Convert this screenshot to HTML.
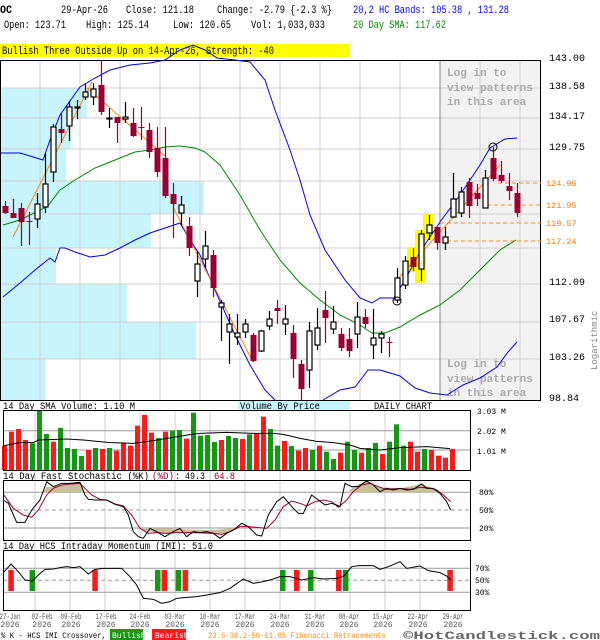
<!DOCTYPE html>
<html><head><meta charset="utf-8"><style>
html,body{margin:0;padding:0;background:#fff}
svg{display:block}
text{font-family:"Liberation Mono",monospace}
</style></head><body>
<svg id="s" width="600" height="640" viewBox="0 0 600 640" xmlns="http://www.w3.org/2000/svg">
<rect width="600" height="640" fill="#fff"/>
<g font-size="11" fill="#000">
<text x="0" y="13" font-weight="bold" textLength="12" lengthAdjust="spacingAndGlyphs">OC</text>
<text x="61" y="13" textLength="47" lengthAdjust="spacingAndGlyphs">29-Apr-26</text>
<text x="126" y="13" textLength="68" lengthAdjust="spacingAndGlyphs">Close: 121.18</text>
<text x="217" y="13" textLength="115" lengthAdjust="spacingAndGlyphs">Change: -2.79 {-2.3 %}</text>
<text x="4" y="28" textLength="62" lengthAdjust="spacingAndGlyphs">Open: 123.71</text>
<text x="86" y="28" textLength="63" lengthAdjust="spacingAndGlyphs">High: 125.14</text>
<text x="173" y="28" textLength="58" lengthAdjust="spacingAndGlyphs">Low: 120.65</text>
<text x="251" y="28" textLength="74" lengthAdjust="spacingAndGlyphs">Vol: 1,033,033</text>
<text x="353" y="13" fill="#0000ff" textLength="156" lengthAdjust="spacingAndGlyphs">20,2 HC Bands: 105.38 , 131.28</text>
<text x="353" y="28" fill="#008800" textLength="93" lengthAdjust="spacingAndGlyphs">20 Day SMA: 117.62</text>
</g>
<rect x="0" y="44" width="349" height="13" fill="#ffff00"/>
<text x="2" y="54" font-size="11" textLength="272" lengthAdjust="spacingAndGlyphs">Bullish Three Outside Up on 14-Apr-26, Strength: -40</text>
<g id="main"></g>
<g id="lower"></g>
</svg>
<script>
const NS="http://www.w3.org/2000/svg";
function el(p,t,a,txt){const e=document.createElementNS(NS,t);for(const k in a)e.setAttribute(k,a[k]);if(txt!==undefined)e.textContent=txt;p.appendChild(e);return e;}
const M=document.getElementById('main'),L=document.getElementById('lower');
[[88,118,87],[118,149,71],[149,181,66],[181,214,204],[214,248,151],[248,284,56],[284,322,127],[322,359,196],[359,400,45]].forEach(b=>el(M,'rect',{x:1,y:b[0],width:b[2]-1,height:b[1]-b[0],fill:'#c8f4fc'}));
el(M,'rect',{x:440,y:60,width:100,height:340,fill:'#f2f2f2'});
[88,118,149,181,214,248,284,322,359].forEach(y=>el(M,'line',{x1:0,x2:540,y1:y,y2:y,stroke:'#d0d0d0','stroke-width':1}));
for(let x=40;x<540;x+=40)el(M,'line',{x1:x,x2:x,y1:60,y2:400,stroke:x==440?'#888':'#d0d0d0','stroke-width':1});
el(M,'rect',{x:0.5,y:60.5,width:540,height:340,fill:'none',stroke:'#000','stroke-width':1});
[[72,'Log in to'],[87,'view patterns'],[101,'in this area'],[363,'Log in to'],[378,'view patterns'],[392,'in this area']].forEach(t=>el(M,'text',{x:447,y:t[0]+4,'font-size':'11','font-weight':'bold',fill:'#aaa'},t[1]));
[[57,'143.00'],[85,'138.58'],[115,'134.17'],[146,'129.75'],[281,'112.09'],[318,'107.67'],[356,'103.26'],[397,'98.84']].forEach(t=>el(M,'text',{x:549,y:t[0]+4,'font-size':'10'},t[1]));
[[183,'124.96',498],[205,'121.95',487],[223,'119.57',440],[241,'117.24',447]].forEach(t=>{el(M,'line',{x1:t[2],x2:541,y1:t[0],y2:t[0],stroke:'#ff8c1a','stroke-dasharray':'4,3'});el(M,'text',{x:546,y:t[0]+3,'font-size':'8.5',fill:'#ff7700'},t[1]);});
el(M,'text',{x:0,y:0,'font-size':'9',fill:'#888',transform:'translate(597,370) rotate(-90)'},'Logarithmic');
[[407,247,9,25],[415,230,11,53],[423,214,10,26]].forEach(r=>el(M,'rect',{x:r[0],y:r[1],width:r[2],height:r[3],fill:'#ffff00'}));
function pl(p,pts,c,w,extra){const a={points:pts.map(q=>q.join(',')).join(' '),fill:'none',stroke:c,'stroke-width':w||1};Object.assign(a,extra||{});return el(p,'polyline',a);}
pl(M,[[1,153],[20,153],[43,160],[50,140],[60,115],[80,87],[95,78],[110,70],[130,65],[150,63],[165,60],[180,50],[193,45],[205,50],[217,58],[235,60],[250,62],[265,80],[275,110],[290,150],[300,180],[310,215],[325,250],[345,280],[360,298],[372,303],[380,298],[394,298],[405,280],[420,252],[440,222],[460,195],[480,165],[490,148],[505,139],[517,138]],'#0000ee');
pl(M,[[3,225],[20,220],[40,210],[47,207],[60,190],[75,180],[95,168],[115,160],[135,152],[150,150],[165,147],[180,146],[195,148],[205,152],[220,165],[240,195],[260,230],[280,260],[300,283],[320,300],[340,315],[360,325],[372,333],[385,333],[400,327],[420,315],[440,305],[460,290],[480,270],[500,250],[516,240]],'#008800');
pl(M,[[3,297],[20,283],[35,270],[50,258],[55,262],[60,248],[65,248],[75,252],[90,257],[105,255],[120,248],[135,240],[150,233],[165,228],[180,223],[190,240],[200,255],[215,290],[235,335],[250,365],[265,390],[275,400]],'#0000ee');
pl(M,[[323,400],[340,390],[355,387],[362,378],[368,370],[380,370],[400,376],[415,388],[430,393],[447,395],[463,385],[480,378],[497,367],[508,352],[517,342]],'#0000ee');
pl(M,[[13,237],[92,82]],'#ff7f1a');pl(M,[[87,88],[165,156]],'#ff7f1a');pl(M,[[173,207],[253,362]],'#ff7f1a');pl(M,[[395,282],[500,165]],'#ff7f1a');
const C=[[206,213,201,214,'r'],[213,218,199,218,'r'],[208,222,203,246,'r'],[221,222,212,245,'r'],[204,219,193,228,'w'],[184,207,153,213,'w'],[127,172,124,182,'w'],[129,133,113,143,'r'],[107,126,101,141,'w'],[107,108,100,119,'w'],[92,97,84,100,'w'],[89,97,83,105,'w'],[85,112,61,115,'r'],[118,118,108,128,'w'],[117,123,117,143,'r'],[117,119,102,123,'w'],[123,136,108,137,'r'],[127,128,107,140,'r'],[130,152,123,158,'r'],[148,172,127,177,'r'],[158,196,127,198,'r'],[194,204,183,238,'r'],[205,213,196,225,'w'],[226,248,217,256,'r'],[264,281,252,297,'w'],[246,259,231,268,'w'],[255,288,250,297,'r'],[303,307,300,341,'w'],[324,332,314,364,'w'],[333,337,314,345,'w'],[324,332,319,338,'w'],[335,361,333,362,'r'],[331,351,330,352,'w'],[319,326,311,330,'w'],[308,311,300,324,'r'],[319,324,305,335,'w'],[333,359,325,378,'r'],[364,389,360,400,'r'],[331,370,322,388,'w'],[328,345,308,350,'w'],[310,318,291,343,'r'],[322,329,306,334,'w'],[334,348,328,351,'r'],[339,351,328,357,'r'],[317,334,302,348,'w'],[317,324,309,328,'r'],[338,345,309,359,'w'],[334,338,331,353,'w'],[342,343,337,357,'r'],[278,300,268,303,'w'],[261,285,256,289,'w'],[257,267,248,271,'r'],[234,269,230,281,'w'],[225,233,215,240,'w'],[227,243,227,250,'r'],[237,243,227,250,'w'],[199,217,173,218,'w'],[192,213,187,217,'w'],[182,206,178,218,'r'],[193,199,184,206,'r'],[178,208,170,208,'w'],[158,179,147,181,'r'],[175,181,161,183,'r'],[186,191,173,200,'r'],[193,213,183,217,'r']];
C.forEach((c,i)=>{const x=5+8*i;const red=c[4]=='r';
el(M,'line',{x1:x+0.5,x2:x+0.5,y1:c[2],y2:c[3],stroke:red?'#990033':'#000','stroke-width':1.2});
const h=Math.max(c[1]-c[0],1);
if(red)el(M,'rect',{x:x-2.5,y:c[0],width:6,height:h,fill:'#990033'});
else el(M,'rect',{x:x-2,y:c[0],width:5,height:h,fill:'#fff',stroke:'#000','stroke-width':1.2});});
el(M,'circle',{cx:397,cy:301,r:4,fill:'none',stroke:'#000'});el(M,'circle',{cx:493,cy:147,r:4,fill:'none',stroke:'#000'});
el(L,'text',{x:3,y:409,'font-size':'10',textLength:'132',lengthAdjust:'spacingAndGlyphs'},'14 Day SMA Volume: 1.10 M');
el(L,'rect',{x:238,y:401,width:112,height:9,fill:'#c8f4fc'});
el(L,'text',{x:240,y:409,'font-size':'10',textLength:'80',lengthAdjust:'spacingAndGlyphs'},'Volume By Price');
el(L,'text',{x:374,y:409,'font-size':'10',textLength:'58',lengthAdjust:'spacingAndGlyphs'},'DAILY CHART');
const Z=(zx,zy)=>[zx/3,400+zy/3];
for(let k=1;k<13;k++)el(L,'line',{x1:35*k,x2:35*k,y1:410,y2:610,stroke:'#d0d0d0'});
[430.7,450].forEach(y=>el(L,'line',{x1:3,x2:470,y1:y,y2:y,stroke:'#999'}));
const V=[[137,'r'],[95,'r'],[87,'r'],[120,'r'],[130,'g'],[30,'g'],[102,'g'],[125,'r'],[84,'g'],[144,'g'],[147,'g'],[168,'g'],[150,'r'],[144,'g'],[147,'r'],[144,'g'],[152,'r'],[130,'r'],[137,'r'],[77,'r'],[45,'r'],[98,'r'],[114,'g'],[95,'r'],[92,'g'],[90,'g'],[116,'r'],[38,'g'],[107,'g'],[105,'g'],[126,'g'],[120,'r'],[108,'g'],[114,'g'],[117,'r'],[103,'g'],[99,'r'],[50,'r'],[87,'g'],[137,'g'],[123,'r'],[138,'g'],[152,'r'],[144,'r'],[150,'g'],[137,'r'],[155,'g'],[177,'g'],[158,'r'],[125,'g'],[150,'g'],[158,'r'],[144,'g'],[129,'g'],[162,'r'],[125,'g'],[73,'g'],[137,'g'],[125,'r'],[155,'r'],[147,'g'],[150,'r'],[167,'r'],[173,'r'],[147,'r']];
V.forEach((v,i)=>{const x=4.5+7*i;const y=400+v[0]/3;el(L,'rect',{x:x-2.5,y:y,width:5,height:470-y,fill:v[1]=='r'?'#ff1a1a':'#119911'});});
pl(L,[[13,137],[60,128],[100,128],[115,120],[200,117],[250,120],[330,128],[400,130],[460,122],[520,112],[570,104],[600,100],[680,97],[760,100],[820,100],[850,103],[900,115],[950,124],[1000,128],[1050,135],[1080,145],[1140,150],[1200,143],[1280,140],[1350,146]].map(p=>Z(p[0],p[1])),'#000');
el(L,'rect',{x:3.5,y:410.5,width:467,height:60,fill:'none',stroke:'#000'});
[[414,'3.03 M'],[434,'2.02 M'],[454,'1.01 M']].forEach(t=>el(L,'text',{x:477,y:t[0],'font-size':'8'},t[1]));
el(L,'text',{x:3,y:479,'font-size':'10',textLength:'146',lengthAdjust:'spacingAndGlyphs'},'14 Day Fast Stochastic (%K) ');
el(L,'text',{x:152,y:479,'font-size':'10',fill:'#990033',textLength:'22',lengthAdjust:'spacingAndGlyphs'},'(%D)');
el(L,'text',{x:175,y:479,'font-size':'10',textLength:'30',lengthAdjust:'spacingAndGlyphs'},': 49.3');
el(L,'text',{x:214,y:479,'font-size':'10',fill:'#990033',textLength:'21',lengthAdjust:'spacingAndGlyphs'},'64.8');
el(L,'line',{x1:3,x2:470,y1:492.3,y2:492.3,stroke:'#999'});el(L,'line',{x1:3,x2:470,y1:528,y2:528,stroke:'#999'});
el(L,'line',{x1:3,x2:470,y1:510,y2:510,stroke:'#999','stroke-dasharray':'4,3'});
const sh='#c8c09a';
el(L,'polygon',{points:[[130,277],[140,260],[160,262],[185,253],[210,252],[240,248],[255,277]].map(p=>Z(...p).join(',')).join(' '),fill:sh});
el(L,'polygon',{points:[[425,384],[445,384],[500,385],[560,388],[640,390],[700,384],[712,384],[690,397],[640,402],[560,400],[470,398],[430,392]].map(p=>Z(...p).join(',')).join(' '),fill:sh});
el(L,'polygon',{points:[[1045,277],[1060,260],[1100,243],[1140,262],[1200,265],[1265,252],[1300,265],[1310,277]].map(p=>Z(...p).join(',')).join(' '),fill:sh});
pl(L,[[10,283],[40,325],[70,345],[95,352],[115,330],[140,285],[160,265],[185,255],[210,252],[240,250],[255,265],[275,285],[300,298],[320,300],[345,312],[370,318],[395,345],[420,385],[445,400],[470,398],[500,400],[530,398],[560,398],[600,398],[640,400],[665,403],[690,395],[720,380],[745,380],[770,382],[800,385],[825,360],[850,320],[875,303],[900,310],[920,318],[945,305],[970,300],[995,305],[1015,322],[1040,300],[1060,275],[1085,255],[1110,250],[1140,262],[1160,268],[1200,265],[1230,268],[1260,262],[1290,264],[1310,270],[1330,285],[1352,305]].map(p=>Z(...p)),'#990033');
pl(L,[[10,300],[25,310],[50,367],[75,367],[95,330],[120,300],[140,245],[160,260],[185,250],[210,250],[240,247],[255,285],[265,298],[285,300],[300,300],[320,300],[345,313],[370,320],[385,345],[400,395],[415,410],[430,415],[450,385],[470,395],[495,410],[520,395],[540,385],[560,410],[580,395],[600,398],[620,395],[640,400],[660,415],[680,400],[700,390],[725,370],[745,380],[770,405],[785,408],[805,345],[830,305],[850,290],[880,325],[895,340],[910,340],[935,285],[955,300],[975,315],[995,310],[1010,315],[1020,320],[1035,250],[1055,260],[1075,260],[1100,243],[1120,255],[1140,275],[1160,265],[1180,270],[1200,265],[1220,270],[1240,268],[1265,252],[1280,265],[1300,265],[1320,280],[1340,305],[1352,330]].map(p=>Z(...p)),'#000');
el(L,'rect',{x:3.5,y:480.5,width:467,height:60,fill:'none',stroke:'#000'});
[[495,'80%'],[513,'50%'],[531,'20%']].forEach(t=>el(L,'text',{x:479,y:t[0],'font-size':'8'},t[1]));
el(L,'text',{x:3,y:549,'font-size':'10',textLength:'210',lengthAdjust:'spacingAndGlyphs'},'14 Day HCS Intraday Momentum (IMI): 51.0');
el(L,'line',{x1:3,x2:470,y1:568.3,y2:568.3,stroke:'#999'});el(L,'line',{x1:3,x2:470,y1:592.3,y2:592.3,stroke:'#999'});
el(L,'line',{x1:3,x2:470,y1:580.3,y2:580.3,stroke:'#999','stroke-dasharray':'4,3'});
[[11,'r'],[32.3,'g'],[95,'r'],[157.7,'g'],[164.3,'r'],[178.3,'g'],[185.3,'r'],[282.7,'g'],[296.7,'r'],[310.7,'g'],[338.7,'r'],[345.7,'g'],[450,'r']].forEach(b=>el(L,'rect',{x:b[0]-2.7,y:570,width:5.5,height:21,fill:b[1]=='r'?'#ff1a1a':'#119911'}));
pl(L,[[10,518],[33,492],[55,515],[75,540],[97,543],[115,525],[135,508],[160,507],[180,503],[200,500],[220,503],[240,500],[265,522],[285,508],[310,505],[365,505],[390,530],[410,555],[430,595],[460,598],[485,610],[510,605],[530,595],[560,592],[590,590],[620,585],[660,578],[690,565],[730,537],[760,550],[790,545],[810,540],[840,530],[870,530],[905,540],[940,533],[970,537],[1010,535],[1030,530],[1055,500],[1075,497],[1120,497],[1140,508],[1165,500],[1200,485],[1220,505],[1260,498],[1285,512],[1320,518],[1340,528],[1352,540]].map(p=>Z(...p)),'#000');
el(L,'rect',{x:3.5,y:550.5,width:467,height:60,fill:'none',stroke:'#000'});
[[571,'70%'],[583,'50%'],[595,'30%']].forEach(t=>el(L,'text',{x:475,y:t[0],'font-size':'8'},t[1]));
['27-Jan','02-Feb','09-Feb','17-Feb','24-Feb','03-Mar','10-Mar','17-Mar','24-Mar','31-Mar','08-Apr','15-Apr','22-Apr','29-Apr'].forEach((d,k)=>{const cx=[10,42,71,106,140,175,210,245,280,315,349,383,418,453][k];
el(L,'text',{x:cx,y:619,'font-size':'8','text-anchor':'middle',fill:'#555',textLength:'21',lengthAdjust:'spacingAndGlyphs'},d);
el(L,'text',{x:cx,y:627,'font-size':'8','text-anchor':'middle',fill:'#555'},'2026');});
el(L,'text',{x:1,y:638,'font-size':'8',textLength:'105',lengthAdjust:'spacingAndGlyphs'},'% K - HCS IMI Crossover,');
el(L,'rect',{x:110,y:629,width:33,height:11,fill:'#119911'});el(L,'text',{x:112,y:638,'font-size':'8',fill:'#fff'},'Bullish');
el(L,'rect',{x:152,y:629,width:34,height:11,fill:'#ff1a1a'});el(L,'text',{x:155,y:638,'font-size':'8',fill:'#fff'},'Bearish');
el(L,'text',{x:208,y:638,'font-size':'8',fill:'#ff8c1a',textLength:'178',lengthAdjust:'spacingAndGlyphs'},'23.6-38.2-50-61.8% Fibonacci Retracements');
el(L,'text',{x:403,y:639,'font-size':'11','font-weight':'bold',fill:'#666',textLength:'197',lengthAdjust:'spacingAndGlyphs'},'©HotCandlestick.com');
</script>
</body></html>
